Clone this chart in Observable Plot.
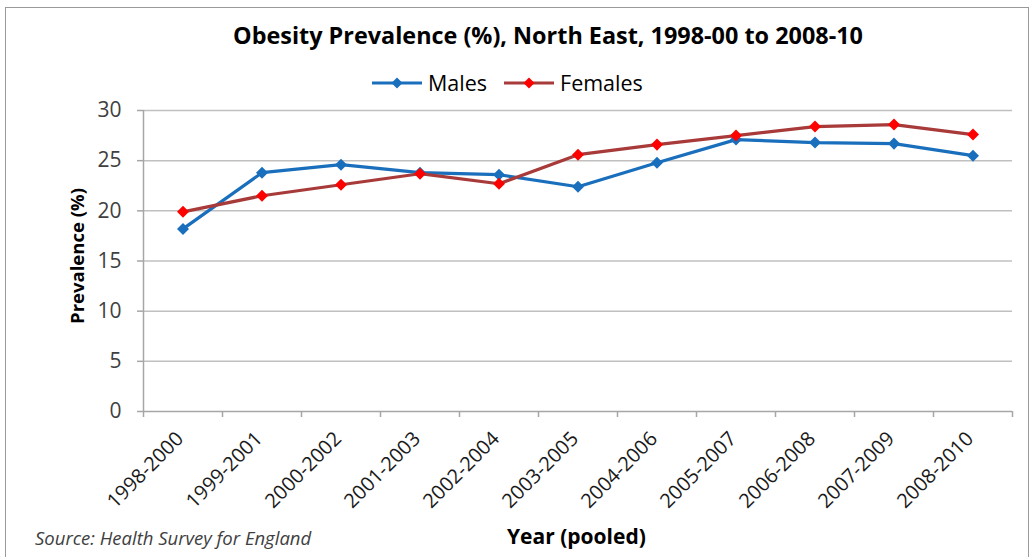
<!DOCTYPE html>
<html>
<head>
<meta charset="utf-8">
<script src="https://cdn.jsdelivr.net/npm/d3@7"></script>
<script src="https://cdn.jsdelivr.net/npm/@observablehq/plot@0.6"></script>
<style>
  html, body { margin: 0; padding: 0; background: #fff; }
  #wrap { position: relative; width: 1035px; height: 557px; overflow: hidden; font-family: "Open Sans", sans-serif; }
  #frame { position: absolute; left: 5px; top: 7px; width: 1024px; height: 600px; border: 1.5px solid #9a9a9a; box-sizing: border-box; }
  #chart { position: absolute; left: 0; top: 0; }
  .ov { position: absolute; white-space: nowrap; color: #000; }
  #title { left: 0; width: 1096px; top: 19px; text-align: center; font-weight: bold; font-size: 23.4px; }
  #legend { top: 68px; left: 372px; font-size: 21.5px; display: flex; align-items: center; }
  .lg { display: flex; align-items: center; margin-right: 17px; }
  .lg svg { margin-right: 6px; }
  #source { left: 35px; top: 525px; font-style: italic; font-size: 18.5px; color: #404040; }
  #xlabel { left: 507px; top: 522px; font-weight: bold; font-size: 21px; }
  #ylabel { left: 76px; top: 256px; font-weight: bold; font-size: 18.5px; transform: translate(-50%, -50%) rotate(-90deg); }
</style>
</head>
<body>
<div id="wrap">
  <div id="frame"></div>
  <div id="chart"></div>
  <div class="ov" id="title">Obesity Prevalence (%), North East, 1998-00 to 2008-10</div>
  <div class="ov" id="legend"></div>
  <div class="ov" id="ylabel">Prevalence (%)</div>
  <div class="ov" id="xlabel">Year (pooled)</div>
  <div class="ov" id="source">Source: Health Survey for England</div>
</div>
<script>
const years = ["1998-2000","1999-2001","2000-2002","2001-2003","2002-2004","2003-2005","2004-2006","2005-2007","2006-2008","2007-2009","2008-2010"];
const males = [18.2, 23.8, 24.6, 23.8, 23.6, 22.4, 24.8, 27.1, 26.8, 26.7, 25.5];
const females = [19.9, 21.5, 22.6, 23.7, 22.7, 25.6, 26.6, 27.5, 28.4, 28.6, 27.6];
const yTicks = [0, 5, 10, 15, 20, 25, 30];
const seriesNames = ["Males", "Females"];
const lineColors = ["#1a6fbd", "#a83a3a"];
const markerColors = ["#1a6fbd", "#ff0000"];

const rows = [];
years.forEach((y, i) => {
  rows.push({i, year: y, series: "Males", value: males[i]});
  rows.push({i, year: y, series: "Females", value: females[i]});
});
const boundaries = d3.range(years.length + 1).map(k => k - 0.5);

const plot = Plot.plot({
  width: 1035,
  height: 557,
  marginLeft: 143,
  marginRight: 23,
  marginTop: 110,
  marginBottom: 146,
  style: { fontFamily: "'Open Sans', sans-serif", background: "transparent", color: "#404040" },
  x: { domain: [-0.5, years.length - 0.5] },
  y: { domain: [0, 30] },
  color: { domain: seriesNames, range: lineColors },
  marks: [
    Plot.gridY(yTicks.filter(t => t > 0), { stroke: "#c0c0c0", strokeOpacity: 1, strokeWidth: 1.5 }),
    Plot.ruleX([-0.5], { stroke: "#a6a6a6", strokeWidth: 1.5 }),
    Plot.ruleY([0], { stroke: "#a6a6a6", strokeWidth: 1.5 }),
    Plot.axisY({ ticks: yTicks, tickSize: 6, tickPadding: 16, fontSize: 21, stroke: "#a6a6a6", strokeWidth: 1.5, label: null, color: "#404040" }),
    Plot.axisX({ ticks: boundaries, tickSize: 6, tickFormat: () => "", stroke: "#a6a6a6", strokeWidth: 1.5, label: null }),
    Plot.axisX({ ticks: d3.range(years.length), tickSize: 0, tickRotate: -45, tickPadding: 0, dx: -3, dy: 24, tickFormat: i => years[i], fontSize: 20, fill: "#1a1a1a", label: null }),
    Plot.line(rows, { x: "i", y: "value", z: "series", stroke: "series", strokeWidth: 3.2 }),
    Plot.dot(rows, { x: "i", y: "value", symbol: "square", rotate: 45, r: 4.8, fill: d => markerColors[seriesNames.indexOf(d.series)] })
  ]
});
document.getElementById("chart").appendChild(plot);

// legend
const legend = document.getElementById("legend");
seriesNames.forEach((name, k) => {
  const item = document.createElement("div");
  item.className = "lg";
  item.innerHTML = `<svg width="50" height="14"><line x1="0" y1="7" x2="50" y2="7" stroke="${lineColors[k]}" stroke-width="3.2"/><path d="M25,1.5 L30.5,7 L25,12.5 L19.5,7 Z" fill="${markerColors[k]}"/></svg><span>${name}</span>`;
  legend.appendChild(item);
});
</script>
</body>
</html>
